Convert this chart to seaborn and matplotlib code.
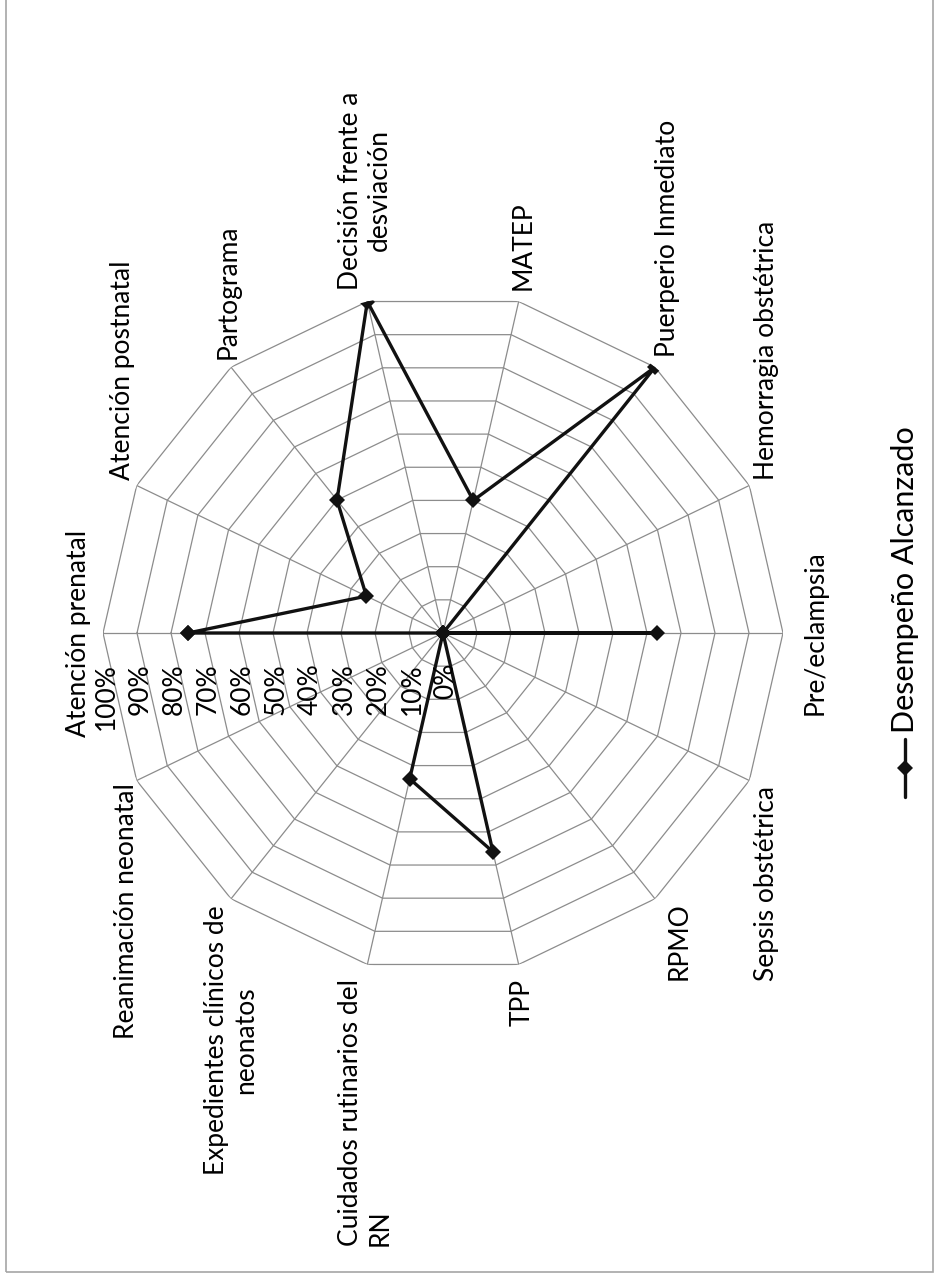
import numpy as np
import pandas as pd
import matplotlib
matplotlib.use("Agg")
import matplotlib.pyplot as plt
import matplotlib.transforms as mtransforms
from matplotlib.lines import Line2D
from matplotlib.patches import Rectangle
import seaborn as sns

# Competencias evaluadas (en orden horario) y desempeño alcanzado (%)
categorias = ["Atención prenatal", "Atención postnatal", "Partograma",
              "Decisión frente a\ndesviación", "MATEP", "Puerperio Inmediato",
              "Hemorragia obstétrica", "Pre/eclampsia", "Sepsis obstétrica",
              "RPMO", "TPP", "Cuidados rutinarios del\nRN",
              "Expedientes clínicos de\nneonatos", "Reanimación neonatal"]
desempeno = [75, 25, 50, 100, 40, 100, 0, 63, 0, 0, 66, 44, 0, 0]
niveles = [0, 10, 20, 30, 40, 50, 60, 70, 80, 90, 100]
etiquetas_niveles = ["0%", "10%", "20%", "30%", "40%", "50%", "60%",
                     "70%", "80%", "90%", "100%"]
serie = "Desempeño Alcanzado"

sns.set_theme(style="white")
plt.rcParams["font.family"] = ["Lato", "DejaVu Sans"]
FS = 19

W, H, DPI = 935, 1276, 100
fig = plt.figure(figsize=(W / DPI, H / DPI), dpi=DPI)
fig.patch.set_facecolor("white")

# radar girado: el primer eje apunta a la izquierda y avanza en sentido horario
cx, cy, R = 443, 633, 340
ax = fig.add_axes([(cx - R) / W, (H - cy - R) / H, 2 * R / W, 2 * R / H],
                  projection="polar")
ax.set_theta_offset(np.pi)
ax.set_theta_direction(-1)

n = len(categorias)
ang = np.arange(n) * 2 * np.pi / n
ang_c = np.append(ang, ang[0])
gris = "#8c8c8c"

# malla poligonal y radios
for v in niveles[1:]:
    ax.plot(ang_c, [v] * (n + 1), color=gris, lw=0.9, zorder=1)
for a in ang:
    ax.plot([a, a], [0, niveles[-1]], color=gris, lw=0.9, zorder=1)

df = pd.DataFrame({"angulo": ang_c, "valor": desempeno + desempeno[:1]})
sns.lineplot(data=df, x="angulo", y="valor", sort=False, estimator=None,
             ax=ax, color="#111111", lw=2.4, marker="D", markersize=8,
             markeredgewidth=0, legend=False, zorder=3)

ax.set_ylim(0, niveles[-1])
ax.grid(False)
ax.set_xticks([])
ax.set_yticks([])
ax.set_xlabel("")
ax.set_ylabel("")
ax.spines["polar"].set_visible(False)
ax.patch.set_alpha(0)

# etiquetas del eje de valores, bajo el primer eje
for v, t in zip(niveles, etiquetas_niveles):
    tr = mtransforms.offset_copy(ax.transData, fig=fig, x=3, y=-30, units="dots")
    ax.text(0, v, t, transform=tr, rotation=90, ha="center", va="top",
            fontsize=FS, color="black", clip_on=False)

# posición de cada etiqueta de categoría: (ha, va, dx, dy, alineación de líneas)
anclas = [("right", "center", -12, 0, "center"),
          ("right", "bottom", -2, 5, "center"),
          ("center", "bottom", -3, 8, "center"),
          ("center", "bottom", -2, 12, "center"),
          ("center", "bottom", 4, 12, "center"),
          ("left", "bottom", 0, 10, "center"),
          ("left", "bottom", 5, 5, "center"),
          ("left", "center", 20, 0, "center"),
          ("left", "top", 5, -5, "center"),
          ("left", "top", 12, -3, "center"),
          ("center", "top", 3, -15, "center"),
          ("center", "top", -2, -15, "left"),
          ("center", "top", 0, -7, "center"),
          ("right", "top", 2, -3, "center")]
for a, lab, (ha, va, dx, dy, ma) in zip(ang, categorias, anclas):
    tr = mtransforms.offset_copy(ax.transData, fig=fig, x=dx, y=dy, units="dots")
    ax.text(a, niveles[-1], lab, transform=tr, rotation=90, ha=ha, va=va,
            multialignment=ma, fontsize=FS, color="black", clip_on=False)

# leyenda vertical a la derecha
lx = 905 / W
fig.add_artist(Line2D([lx, lx], [(H - 797) / H, (H - 739) / H],
                      transform=fig.transFigure, color="#111111", lw=2.4))
fig.add_artist(Line2D([lx], [(H - 768) / H], transform=fig.transFigure,
                      marker="D", markersize=8, color="#111111",
                      markeredgewidth=0))
fig.text(lx, (H - 733) / H, serie, rotation=90, ha="center", va="bottom",
         fontsize=22, color="black")

# marco del gráfico
fig.add_artist(Rectangle((6 / W, 4 / H), 927 / W, 1.2, transform=fig.transFigure,
                         fill=False, edgecolor="#a6a6a6", lw=1.2, clip_on=False))

fig.savefig("out.png", dpi=DPI, facecolor="white")
